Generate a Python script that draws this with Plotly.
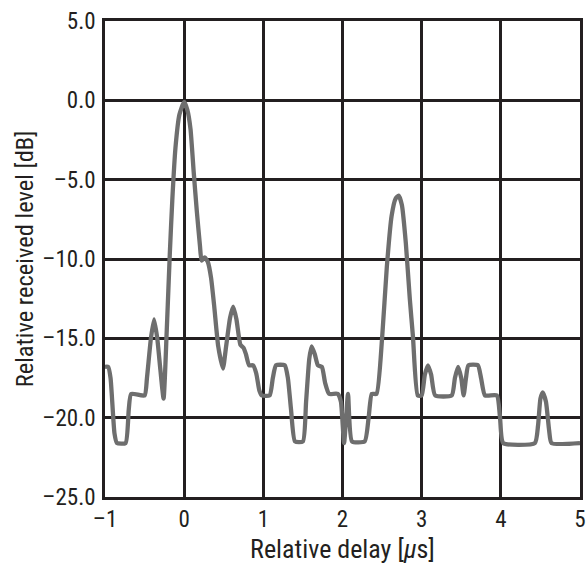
import plotly.graph_objects as go

delay_us = [-1.00, -0.96, -0.93, -0.88, -0.85, -0.74, -0.70, -0.67, -0.50, -0.47,
            -0.42, -0.38, -0.34, -0.30, -0.26, -0.22, -0.18, -0.15, -0.11, -0.06,
            0.00, 0.04, 0.08, 0.12, 0.16, 0.20, 0.22, 0.26, 0.30, 0.34,
            0.38, 0.43, 0.49, 0.53, 0.58, 0.62, 0.66, 0.71, 0.75, 0.78,
            0.82, 0.87, 0.91, 0.95, 0.98, 1.08, 1.12, 1.16, 1.27, 1.31,
            1.35, 1.40, 1.50, 1.54, 1.58, 1.61, 1.65, 1.69, 1.74, 1.78,
            1.83, 1.94, 1.98, 2.02, 2.07, 2.12, 2.28, 2.33, 2.37, 2.43,
            2.50, 2.56, 2.62, 2.67, 2.71, 2.75, 2.80, 2.85, 2.89, 2.95,
            3.00, 3.04, 3.08, 3.12, 3.17, 3.38, 3.42, 3.46, 3.50, 3.53,
            3.56, 3.59, 3.71, 3.75, 3.80, 3.95, 3.99, 4.03, 4.43, 4.47,
            4.50, 4.53, 4.57, 4.61, 4.64, 5.00]
level_db = [-16.8, -16.8, -17.5, -21.0, -21.6, -21.6, -19.5, -18.5, -18.6, -17.5,
            -15.0, -13.8, -15.0, -17.0, -18.8, -14.5, -9.5, -6.3, -3.0, -0.9,
            -0.1, -0.6, -1.8, -4.5, -7.0, -9.2, -10.1, -9.9, -10.2, -11.2,
            -13.0, -15.5, -16.9, -15.5, -13.7, -13.0, -13.8, -15.4, -15.6, -16.0,
            -16.7, -16.7, -17.2, -18.3, -18.6, -18.6, -17.5, -16.7, -16.7, -17.5,
            -19.5, -21.5, -21.5, -19.0, -16.3, -15.5, -16.0, -16.7, -16.8, -17.8,
            -18.5, -18.5, -19.0, -21.6, -18.5, -21.5, -21.5, -20.0, -18.5, -18.5,
            -15.0, -10.5, -7.3, -6.2, -6.0, -6.6, -9.0, -12.5, -14.9, -18.6,
            -18.6, -17.3, -16.7, -17.3, -18.6, -18.6, -17.5, -16.8, -17.5, -18.6,
            -17.5, -16.7, -16.7, -17.5, -18.6, -18.6, -20.0, -21.6, -21.6, -20.5,
            -18.8, -18.4, -19.0, -20.8, -21.6, -21.6]

x_ticks = [-1, 0, 1, 2, 3, 4, 5]
x_tick_labels = ["–1", "0", "1", "2", "3", "4", "5"]
y_ticks = [-25, -20, -15, -10, -5, 0, 5]
y_tick_labels = ["–25.0", "–20.0", "–15.0", "–10.0", "–5.0", "0.0", "5.0"]

FONT = "Liberation Sans Narrow, Roboto Condensed, Arial Narrow, sans-serif"
INK = "#231f20"

fig = go.Figure()
fig.add_trace(go.Scatter(
    x=delay_us, y=level_db, mode="lines",
    line=dict(color="#6e6e6e", width=4.3, shape="spline", smoothing=0.5),
    showlegend=False, hoverinfo="skip"))

axis_common = dict(
    showgrid=True, gridcolor=INK, gridwidth=2.5,
    showline=True, linecolor=INK, linewidth=2.5, mirror=True,
    zeroline=False, ticks="", automargin=False,
    tickfont=dict(family=FONT, size=23, color=INK),
)

fig.update_xaxes(range=[-1, 5], tickvals=x_ticks, ticktext=x_tick_labels,
                 title=dict(text="Relative delay [<i>μ</i>s]",
                            font=dict(family=FONT, size=26, color=INK), standoff=8),
                 **axis_common)
fig.update_yaxes(range=[-25, 5], tickvals=y_ticks, ticktext=y_tick_labels, ticklabelstandoff=2,
                 title=dict(text="Relative received level [dB]",
                            font=dict(family=FONT, size=24.5, color=INK), standoff=2),
                 **axis_common)

fig.update_layout(
    width=586, height=569,
    margin=dict(l=105, r=6, t=21, b=72),
    plot_bgcolor="white", paper_bgcolor="white",
)

fig.write_html("out.html", config={"displayModeBar": False},
               post_script="document.body.style.margin='0';")
